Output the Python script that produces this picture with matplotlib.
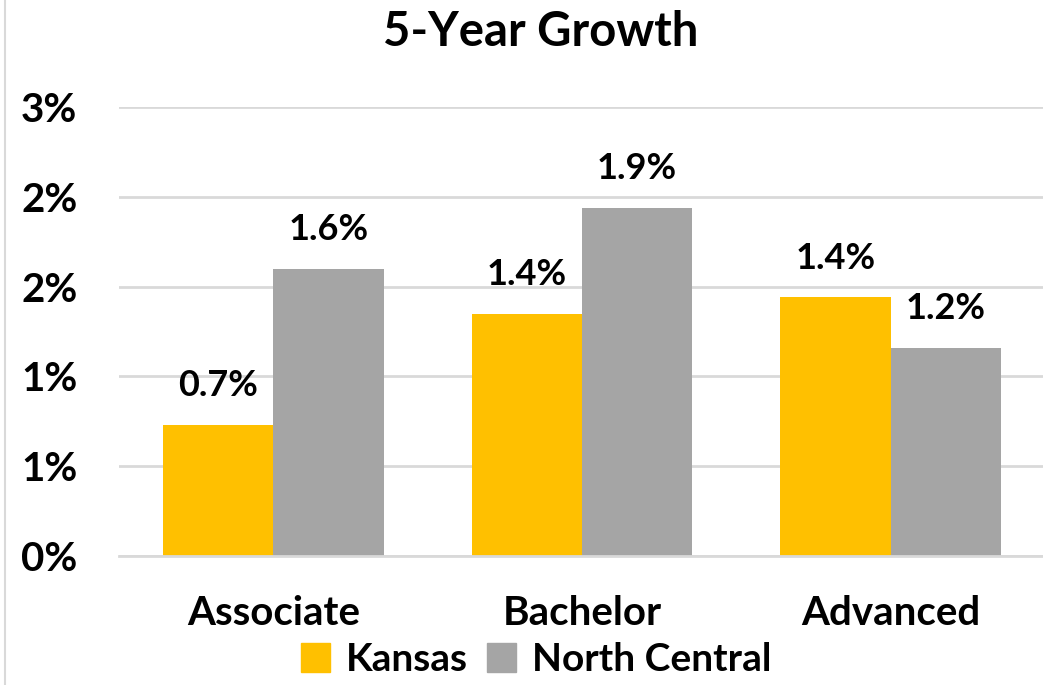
import numpy as np
import matplotlib.pyplot as plt
from matplotlib.patches import Patch

categories = ['Associate', 'Bachelor', 'Advanced']
kansas = [0.73, 1.35, 1.44]
north_central = [1.60, 1.94, 1.16]
kansas_labels = ['0.7%', '1.4%', '1.4%']
nc_labels = ['1.6%', '1.9%', '1.2%']
yticks = [0, 0.5, 1.0, 1.5, 2.0, 2.5]
ytick_labels = ['0%', '1%', '1%', '2%', '2%', '3%']

YELLOW = '#FFC000'
GRAY = '#A5A5A5'
FONT = 'Lato'

plt.rcParams['font.family'] = [FONT, 'DejaVu Sans']
plt.rcParams['font.weight'] = 'bold'

fig = plt.figure(figsize=(10.43, 6.85), dpi=100)
ax = fig.add_axes([119 / 1043, 129 / 685, 926 / 1043, 449 / 685])

x = np.arange(len(categories))
w = 0.357
b1 = ax.bar(x - w / 2, kansas, w, color=YELLOW, zorder=2)
b2 = ax.bar(x + w / 2, north_central, w, color=GRAY, zorder=2)

for bars, labels in ((b1, kansas_labels), (b2, nc_labels)):
    for rect, lab in zip(bars, labels):
        ax.text(rect.get_x() + rect.get_width() / 2, rect.get_height() + 0.125, lab,
                ha='center', va='bottom', fontsize=26, fontweight='bold')

ax.set_xlim(-0.5, 2.5)
ax.set_ylim(0, 2.5)
ax.set_yticks(yticks)
ax.set_yticklabels(ytick_labels, fontsize=29, fontweight='bold')
ax.set_xticks(x)
ax.set_xticklabels(categories, fontsize=29, fontweight='bold')
ax.tick_params(length=0)
ax.tick_params(axis='y', pad=30)
ax.tick_params(axis='x', pad=28)
ax.yaxis.grid(True, color='#D9D9D9', linewidth=2, zorder=0)
for s in ax.spines.values():
    s.set_visible(False)
ax.spines['bottom'].set_visible(True)
ax.spines['bottom'].set_color('#D9D9D9')
ax.spines['bottom'].set_linewidth(2)

fig.text(0.518, 0.953, '5-Year Growth', ha='center', va='center',
         fontsize=34, fontweight='bold')

handles = [Patch(color=YELLOW, label='Kansas'), Patch(color=GRAY, label='North Central')]
fig.legend(handles=handles, loc='center', bbox_to_anchor=(0.514, 0.037), ncol=2,
           frameon=False, handlelength=0.75, handleheight=0.75,
           handletextpad=0.4, columnspacing=0.5, prop={'weight': 'bold', 'size': 28})

# thin frame line at the left edge
fig.add_artist(plt.Line2D([0.005, 0.005], [0, 1], color='#D9D9D9', linewidth=1.5))

fig.savefig('out.png', dpi=100)
